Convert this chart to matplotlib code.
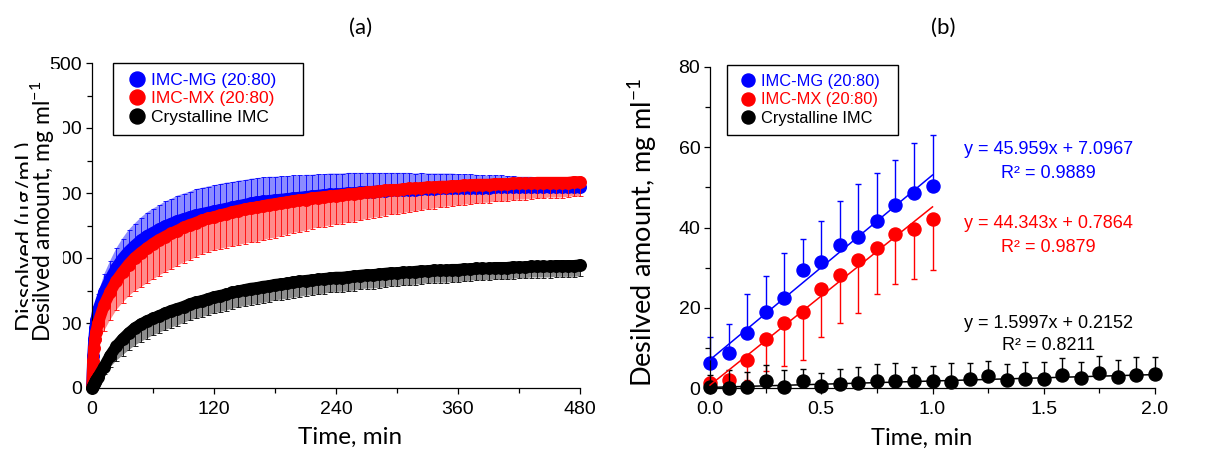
import numpy as np
import matplotlib
matplotlib.use('Agg')
import matplotlib.pyplot as plt
from matplotlib.lines import Line2D
from matplotlib.patches import Rectangle
from matplotlib.ticker import MultipleLocator, FormatStrFormatter

plt.rcParams['font.family'] = ['Liberation Sans', 'DejaVu Sans']
plt.rcParams['mathtext.fontset'] = 'custom'
plt.rcParams['mathtext.rm'] = 'Lato'
plt.rcParams['mathtext.it'] = 'Lato:italic'
LAB = ['Lato', 'DejaVu Sans']  # stand-in for Calibri

labels = ['IMC-MG (20:80)', 'IMC-MX (20:80)', 'Crystalline IMC']
colors = ['#0000ff', '#ff0000', '#000000']

# (a) whole run, min
t_a = np.array([0, 1, 2, 3, 4] + list(range(6, 481, 6)))
mg_a = [5, 50, 75, 92, 104,
        120, 148, 168, 185, 199, 210, 219, 227, 234, 239,
        244, 249, 253, 257, 260, 263, 266, 268, 270, 272,
        274, 276, 278, 280, 282, 284, 286, 287, 288, 289,
        290, 291, 292, 293, 294, 295, 296, 297, 298, 298,
        299, 300, 300, 301, 302, 302, 303, 303, 304, 304,
        305, 305, 305, 306, 306, 306, 307, 307, 307, 307,
        308, 308, 308, 308, 308, 309, 309, 309, 309, 309,
        309, 310, 310, 310, 310, 310, 310, 310, 310, 310]
mg_a_sd = [5, 10, 14, 18, 20,
           24, 27, 28, 30, 31, 33, 34, 35, 36, 37,
           37, 38, 38, 39, 39, 39, 40, 40, 40, 40,
           40, 40, 39, 39, 38, 38, 37, 37, 37, 36,
           36, 35, 35, 34, 34, 33, 33, 32, 32, 32,
           31, 31, 31, 30, 29, 29, 28, 28, 27, 27,
           26, 26, 25, 25, 24, 24, 23, 23, 23, 22,
           21, 21, 20, 19, 19, 18, 18, 17, 17, 16,
           16, 15, 14, 14, 13, 13, 12, 12, 11, 11]
mx_a = [1, 42, 62, 76, 86,
        100, 128, 148, 165, 178, 190, 200, 208, 215, 222,
        228, 233, 238, 242, 247, 251, 254, 258, 261, 263,
        266, 268, 271, 273, 275, 277, 278, 280, 282, 283,
        285, 286, 288, 289, 290, 292, 293, 294, 295, 296,
        297, 298, 299, 300, 301, 302, 303, 304, 305, 305,
        306, 307, 307, 308, 309, 309, 310, 310, 311, 311,
        312, 312, 313, 313, 313, 314, 314, 314, 315, 315,
        315, 315, 316, 316, 316, 316, 316, 316, 317, 317]
mx_a_sd = [1, 8, 13, 18, 22,
           28, 40, 43, 45, 47, 49, 51, 53, 54, 55,
           55, 55, 55, 54, 54, 54, 53, 52, 52, 51,
           52, 52, 53, 53, 53, 53, 53, 53, 52, 52,
           51, 50, 49, 49, 48, 47, 46, 46, 45, 44,
           44, 43, 43, 42, 41, 40, 40, 39, 38, 37,
           37, 36, 35, 34, 34, 33, 32, 31, 31, 30,
           30, 29, 29, 28, 28, 27, 27, 26, 26, 25,
           25, 24, 24, 24, 23, 23, 23, 22, 22, 22]
cr_a = [0, 3, 6, 9, 12,
        17, 33, 50, 64, 75, 84, 92, 98, 103, 107,
        111, 115, 119, 122, 125, 129, 132, 134, 137, 140,
        142, 144, 147, 149, 151, 153, 154, 156, 157, 159,
        160, 161, 163, 164, 165, 166, 167, 168, 169, 170,
        170, 171, 172, 173, 174, 174, 175, 176, 177, 177,
        178, 178, 179, 180, 180, 181, 181, 181, 182, 182,
        183, 183, 184, 184, 184, 185, 185, 185, 186, 186,
        186, 187, 187, 187, 187, 188, 188, 188, 188, 189]
cr_a_sd = [0, 1, 2, 3, 4,
           6, 12, 18, 22, 25, 26, 27, 27, 27, 26,
           26, 26, 26, 26, 25, 25, 25, 25, 25, 25,
           25, 25, 25, 25, 25, 25, 25, 25, 25, 24,
           24, 24, 24, 24, 23, 23, 23, 23, 22, 22,
           22, 22, 22, 21, 21, 21, 21, 21, 20, 20,
           20, 20, 20, 20, 19, 19, 19, 19, 19, 19,
           19, 18, 18, 18, 18, 18, 18, 18, 18, 17,
           17, 17, 17, 17, 17, 17, 17, 17, 17, 17]

# (b) first two minutes, sampled every 5 s
t_b = np.arange(25) / 12
mg_b = [6.2, 8.7, 13.7, 19.1, 22.4, 29.4, 31.3, 35.7, 37.7, 41.5, 45.6, 48.5, 50.4]
mg_b_sd = [6.5, 7.2, 9.8, 8.8, 11.2, 7.7, 10.3, 10.9, 13.1, 12.1, 11.3, 12.4, 12.7]
mx_b = [1.2, 2.1, 7.0, 12.3, 16.3, 19.1, 24.7, 28.2, 31.8, 35.0, 38.4, 39.6, 42.0]
mx_b_sd = [1.0, 1.5, 5.0, 8.0, 10.7, 12.1, 12.0, 11.9, 13.1, 11.5, 12.4, 12.3, 12.6]
cr_b = [0.4, 0.0, 0.4, 1.7, 0.2, 1.7, 0.6, 1.0, 1.4, 1.8, 1.9, 1.9, 1.9,
        1.5, 2.2, 3.1, 2.0, 2.2, 2.2, 3.3, 2.5, 3.9, 2.9, 3.3, 3.5]
cr_b_sd = [3.0, 4.6, 3.7, 4.1, 4.4, 3.0, 3.1, 3.7, 3.8, 4.3, 4.5, 3.5, 3.7,
           4.9, 4.2, 3.7, 4.1, 4.4, 4.4, 4.2, 4.1, 4.1, 4.1, 4.4, 4.2]
# linear fits: slope, intercept, R2, x range
fits = [(45.959, 7.0967, 0.9889, 1.0), (44.343, 0.7864, 0.9879, 1.0), (1.5997, 0.2152, 0.8211, 2.0)]


def style_axes(ax):
    for s in ['top', 'right']:
        ax.spines[s].set_visible(False)
    for s in ['left', 'bottom']:
        ax.spines[s].set_linewidth(0.9)
    ax.tick_params(which='both', direction='out', width=0.9, labelsize=14)
    ax.tick_params(which='major', length=4)
    ax.tick_params(which='minor', length=3.5)
    ax.tick_params(axis='x', pad=5)
    ax.tick_params(axis='y', pad=3)


def one_sided(err, up):
    err = np.asarray(err, dtype=float)
    z = np.zeros_like(err)
    return [z, err] if up else [err, z]


def draw_series(ax, x, y, err, up, c, z, ms, lw, cap):
    cont = ax.errorbar(x, y, yerr=one_sided(err, up), fmt='o', ms=ms, color=c, mec=c,
                       ecolor=c, elinewidth=lw, capsize=cap, capthick=lw, zorder=z)
    for art in [cont.lines[0], *cont.lines[1], *cont.lines[2]]:
        art.set_clip_on(False)


def dense_series(ax, x, y, err, up, c, z, ms):
    # the original run is sampled so densely that markers merge into a band
    # and the one-sided error bars read as a hatched area
    y = np.asarray(y, dtype=float)
    e = np.asarray(err, dtype=float)
    lo, hi = (y, y + e) if up else (y - e, y)
    ax.fill_between(x, lo, hi, facecolor=c, alpha=0.45, linewidth=0, zorder=1.5)
    ax.plot(x, y, color=c, lw=ms, solid_capstyle='round', solid_joinstyle='round',
            zorder=z, clip_on=False)
    draw_series(ax, x, y, err, up, c, z, ms, 0.6, 1.8)


def add_legend(ax, bbox, ms, fs, hl, pad):
    handles = [Line2D([], [], ls='none', marker='o', ms=ms, color=c) for c in colors]
    leg = ax.legend(handles, labels, loc='upper left', bbox_to_anchor=bbox, mode='expand',
                    borderaxespad=0, fontsize=fs, fancybox=False, edgecolor='black',
                    framealpha=1, handlelength=hl, handletextpad=pad, labelspacing=0.2,
                    borderpad=0.55)
    leg.get_frame().set_linewidth(1.0)
    leg.set_zorder(10)
    for txt, c in zip(leg.get_texts(), colors):
        txt.set_color(c)


fig = plt.figure(figsize=(12.06, 4.5), dpi=100)
W, H = 1206, 450

# ---- (a)
ax1 = fig.add_axes([92 / W, 1 - 388 / H, 488 / W, 325 / H])
style_axes(ax1)
dense_series(ax1, t_a, mg_a, mg_a_sd, True, colors[0], 2, 8.3)
dense_series(ax1, t_a, mx_a, mx_a_sd, False, colors[1], 3, 8.3)
dense_series(ax1, t_a, cr_a, cr_a_sd, False, colors[2], 4, 8.3)
ax1.set_xlim(0, 480)
ax1.set_ylim(0, 500)
ax1.xaxis.set_major_locator(MultipleLocator(120))
ax1.xaxis.set_minor_locator(MultipleLocator(60))
ax1.yaxis.set_major_locator(MultipleLocator(100))
ax1.yaxis.set_minor_locator(MultipleLocator(50))
add_legend(ax1, (21 / 488, 0, 190 / 488, 1.0), 10.8, 12.5, 1.66, 0.0)

# old y label, half hidden by the pasted new one
fig.text(26 / W, 1 - 236 / H, 'Dissolved (µg/mL)', rotation=90, ha='center', va='center',
         family=LAB, fontsize=17, zorder=4)
fig.add_artist(Rectangle((28 / W, 1 - 345 / H), 35 / W, 276 / H, transform=fig.transFigure,
                         fc='white', ec='none', zorder=5))
fig.text(43 / W, 1 - 211 / H, 'Desilved amount, mg ml$^{-1}$', rotation=90, ha='center',
         va='center', family=LAB, fontsize=16.5, zorder=6)
fig.text(350 / W, 1 - 437 / H, 'Time, min', ha='center', va='center', family=LAB, fontsize=17.5)
fig.text(361 / W, 1 - 28 / H, '(a)', ha='center', va='center', family=LAB, fontsize=16)

# ---- (b)
ax2 = fig.add_axes([710 / W, 1 - 388.3 / H, 445 / W, 321.6 / H])
style_axes(ax2)
n = len(mg_b)
draw_series(ax2, t_b[:n], mg_b, mg_b_sd, True, colors[0], 2, 9.4, 1.0, 2.5)
draw_series(ax2, t_b[:n], mx_b, mx_b_sd, False, colors[1], 3, 9.4, 1.0, 2.5)
draw_series(ax2, t_b, cr_b, cr_b_sd, True, colors[2], 4, 9.4, 1.0, 2.5)
for (k, b, r2, xe), c in zip(fits, colors):
    xx = np.array([0, xe])
    ax2.plot(xx, k * xx + b, color=c, lw=1.1, zorder=5, clip_on=False)
ax2.set_xlim(0, 2)
ax2.set_ylim(0, 80)
ax2.xaxis.set_major_locator(MultipleLocator(0.5))
ax2.xaxis.set_minor_locator(MultipleLocator(0.25))
ax2.xaxis.set_major_formatter(FormatStrFormatter('%.1f'))
ax2.yaxis.set_major_locator(MultipleLocator(20))
ax2.yaxis.set_minor_locator(MultipleLocator(10))
add_legend(ax2, (17 / 445, 0, 171 / 445, 1.005), 9.4, 11.8, 1.43, 0.1)

eq_y = [(0.741, 0.669), (0.511, 0.439), (0.203, 0.132)]
for (k, b, r2, xe), c, (y1, y2) in zip(fits, colors, eq_y):
    ax2.text(0.76, y1, f'y = {k}x + {b}', transform=ax2.transAxes, ha='center', va='center',
             color=c, fontsize=13)
    ax2.text(0.76, y2, f'R² = {r2}', transform=ax2.transAxes, ha='center', va='center',
             color=c, fontsize=13)

fig.text(643 / W, 1 - 232 / H, 'Desilved amount, mg ml$^{-1}$', rotation=90, ha='center',
         va='center', family=LAB, fontsize=19.5)
fig.text(922 / W, 1 - 438 / H, 'Time, min', ha='center', va='center', family=LAB, fontsize=17)
fig.text(943 / W, 1 - 28 / H, '(b)', ha='center', va='center', family=LAB, fontsize=16)

fig.savefig('out.png', dpi=100)
